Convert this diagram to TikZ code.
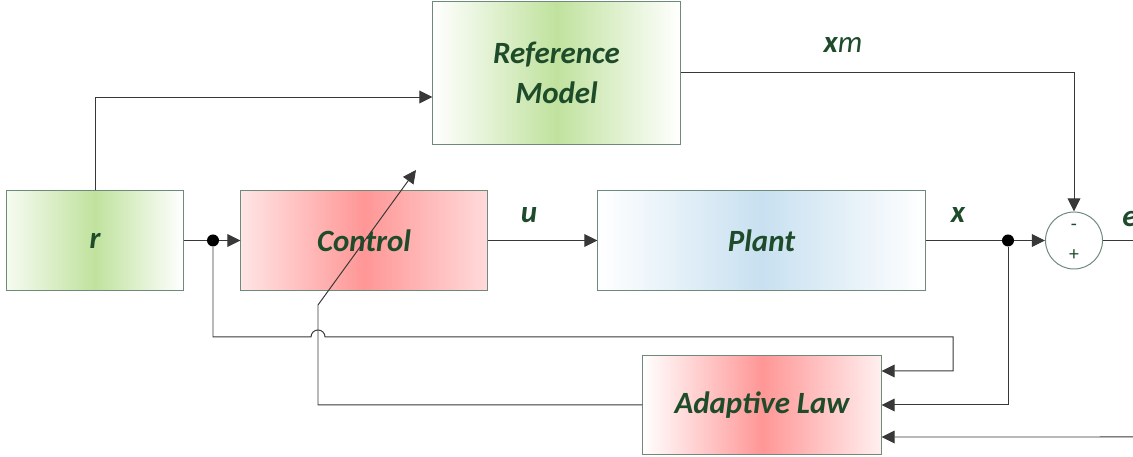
\documentclass[tikz,border=0pt]{standalone}
\usepackage{fontspec}
\setmainfont{Carlito}
\usetikzlibrary{arrows.meta}
\definecolor{txtgreen}{HTML}{1E4B2A}
\definecolor{edgegray}{HTML}{6E8A7A}
\definecolor{wiregray}{HTML}{383838}
\definecolor{boxgreen}{HTML}{C0E29E}
\definecolor{boxred}{HTML}{FF9696}
\definecolor{boxblue}{HTML}{C8E0F0}
\tikzset{
  blk/.style={draw=edgegray, line width=0.7pt, minimum height=2.475cm, text=txtgreen,
    font=\fontsize{22}{28}\selectfont\bfseries\itshape, align=center},
  sig/.style={text=txtgreen, font=\fontsize{22}{24}\selectfont\bfseries\itshape},
  wire/.style={draw=wiregray, line width=0.7pt},
  feed/.style={wire, -{Triangle[length=0.33cm,width=0.32cm]}},
  junc/.style={circle, fill=black, inner sep=0pt, minimum size=0.3cm},
}

\begin{document}
\begin{tikzpicture}[x=0.025cm, y=0.025cm]
			%%%%% START %%%%%
			\useasboundingbox (0,0) rectangle (1133,457);
			
			\node[blk, minimum width=4.4cm, left color=boxgreen!15, right color=white, middle color=boxgreen] (r) at (95,216.5) {r};
			\node[blk, minimum width=6.15cm, left color=boxred!25, right color=boxred!35, middle color=boxred] (ctrl) at (364,216.5) {Control};
			\node[blk, minimum width=8.175cm, left color=white, right color=white, middle color=boxblue] (plant) at (761.5,216.5) {Plant};
			\node[blk, minimum width=6.175cm, minimum height=3.55cm, left color=white, right color=white, middle color=boxgreen] (refm) at (556.5,384) {Reference\\Model};
			\node[blk, minimum width=5.95cm, minimum height=2.45cm, left color=white, right color=boxred!15, middle color=boxred] (adapt) at (762,52) {Adaptive Law};
			
			\node[circle, draw=edgegray, line width=0.7pt, minimum size=1.425cm, inner sep=0pt] (sum) at (1074,216.5) {};
			\node[text=txtgreen, font=\fontsize{14}{14}\selectfont] (minus) at (1074,230) {-};
			\node[text=txtgreen, font=\fontsize{14}{14}\selectfont] (plus) at (1074,202) {+};
			
			\node[junc] (jr) at (213,216.5) {};
			\node[junc] (jx) at (1008,216.5) {};
			
			\coordinate (hop) at (318,120);
			\coordinate (turn) at (953,120);
			\coordinate (tune) at (318,152);
			\coordinate (tunetip) at (416,287);
			\coordinate (eout) at (1133,216.5);
			\coordinate (ein) at (1133,20);
			
			% forward path
			\draw[feed] (r.north) |- ([yshift=-0.6cm]refm.west);
			\draw[wire] (r.east) -- (jr);
			\draw[feed] (jr) -- (ctrl.west);
			\draw[feed] (ctrl.east) -- (plant.west);
			\draw[wire] (plant.east) -- (jx);
			\draw[feed] (jx) -- (sum.west);
			\draw[feed] (refm.east) -| (sum.north);
			\draw[wire] (sum.east) -- (eout);
			
			% adaptation
			\draw[feed] (jr) -- (jr |- hop) -- ([xshift=-0.175cm]hop) arc[start angle=180, end angle=0, radius=0.175cm] -- (turn) |- ([yshift=0.85cm]adapt.east);
			\draw[feed] (jx) |- (adapt.east);
			\draw[feed] (ein) -- ([yshift=-0.8cm]adapt.east);
			\draw[feed] (adapt.west) -| (tune) -- (tunetip);
			
			\node[sig] (xm) at (843,412) {x\mdseries m};
			\node[sig] (u) at (529,242) {u};
			\node[sig] (x) at (958,242) {x};
			\node[sig] (e) at (1130,238) {e};
			
			%%%%% END %%%%%
\end{tikzpicture}
\end{document}
